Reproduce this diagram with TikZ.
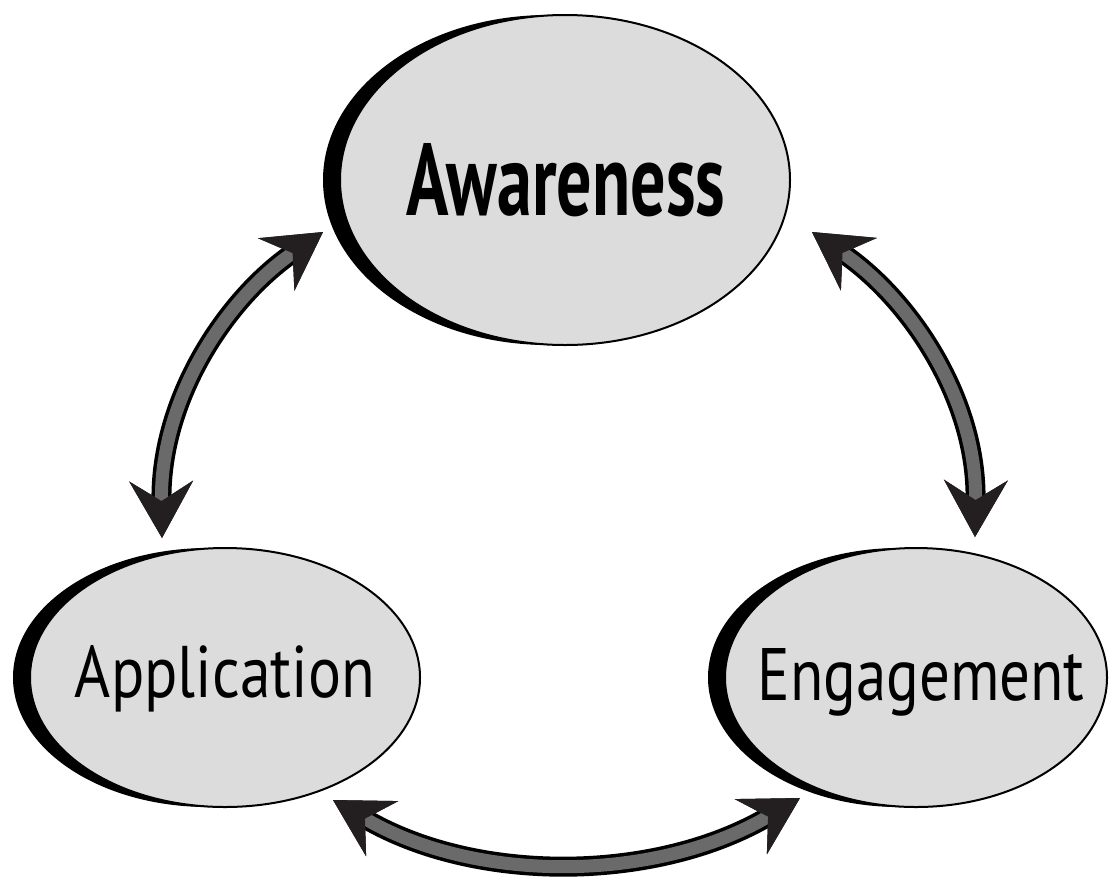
\documentclass[tikz,border=0pt]{standalone}
\usepackage{fontspec}
\setmainfont{PT Sans}
\usetikzlibrary{arrows.meta,shapes.geometric,shadows}
\definecolor{bubblefill}{HTML}{DCDCDC}
\definecolor{shaftgray}{HTML}{6A6A6A}
\definecolor{headdark}{HTML}{231F20}
\tikzset{
  bubble/.style={ellipse, draw=black, line width=2pt, fill=bubblefill,
    inner sep=0pt, outer sep=0pt,
    drop shadow={shadow xshift=-17pt, shadow yshift=0pt, opacity=1, fill=black}},
  caption/.style={anchor=base, inner sep=0pt, text=black},
  hd/.tip={Stealth[length=57pt, width=64pt, inset=20pt, line width=0pt, color=headdark]},
  shaftouter/.style={line width=20pt, draw=black, hd-hd},
  shaftinner/.style={line width=13pt, draw=shaftgray, hd-hd},
}
\begin{document}
\begin{tikzpicture}[x=1pt, y=-1pt]
  \useasboundingbox (0,0) rectangle (1110,879);

  % the three stages
  \node[bubble, minimum width=450pt, minimum height=330pt] (aw) at (565,180) {};
  \node[bubble, minimum width=390pt, minimum height=259pt] (ap) at (225,677.5) {};
  \node[bubble, minimum width=382pt, minimum height=259pt] (en) at (916,677.5) {};

  \node[caption] (awt) at (566,215) {\resizebox{318pt}{72pt}{\bfseries Awareness}};
  \node[caption] (apt) at (225,697) {\resizebox{300pt}{52pt}{Application}};
  \node[caption] (ent) at (921,700) {\resizebox{327pt}{52pt}{Engagement}};

  % arrow end points next to each stage
  \coordinate (awL) at ([shift={(-242,52)}]aw.center);
  \coordinate (awR) at ([shift={(247,52)}]aw.center);
  \coordinate (apT) at ([shift={(-63,-139.5)}]ap.center);
  \coordinate (apB) at ([shift={(108,122.5)}]ap.center);
  \coordinate (enT) at ([shift={(59,-140.5)}]en.center);
  \coordinate (enB) at ([shift={(-116,120.5)}]en.center);

  % double-headed cycle arrows
  \draw[shaftouter] (apT) .. controls (160,400) and (225,300) .. (awL);
  \draw[shaftinner] (apT) .. controls (160,400) and (225,300) .. (awL);

  \draw[shaftouter] (enT) .. controls (977,400) and (911,300) .. (awR);
  \draw[shaftinner] (enT) .. controls (977,400) and (911,300) .. (awR);

  \draw[shaftouter] (apB) .. controls (477,884) and (656,882) .. (enB);
  \draw[shaftinner] (apB) .. controls (477,884) and (656,882) .. (enB);
\end{tikzpicture}
\end{document}
